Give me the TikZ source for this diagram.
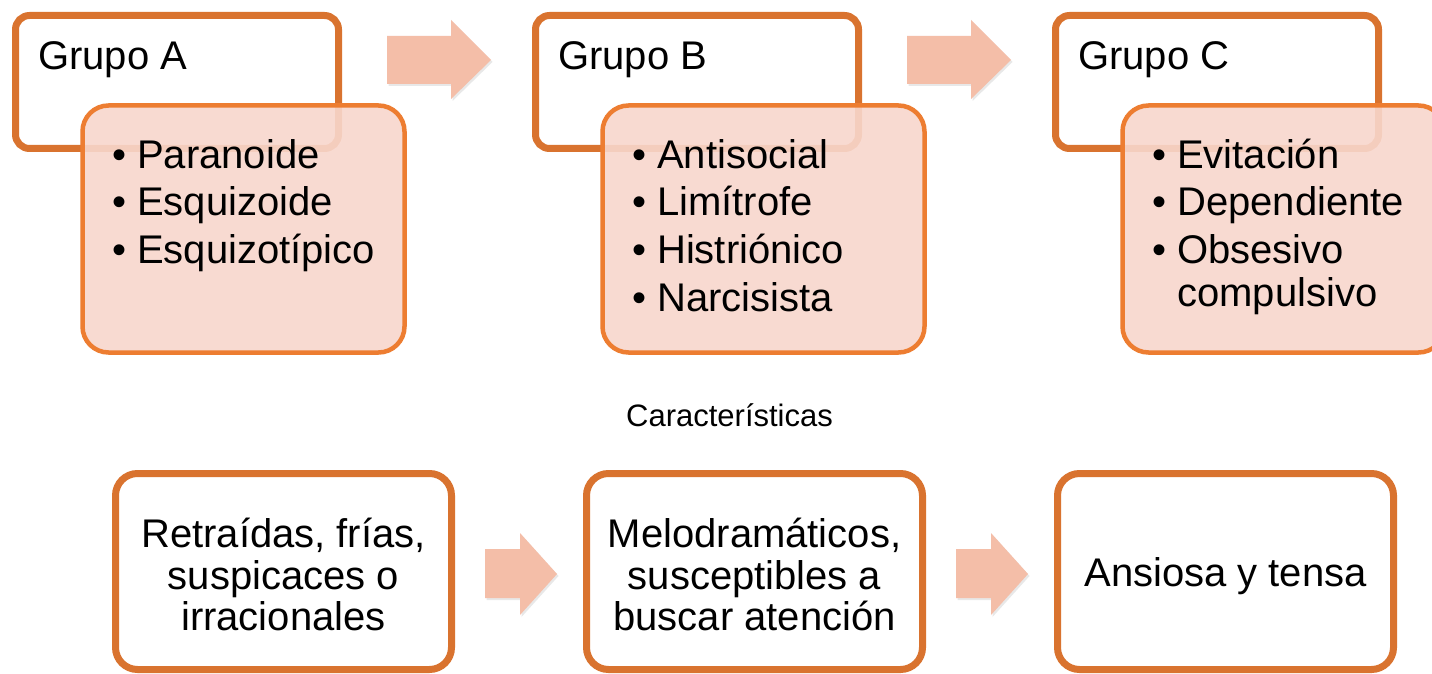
\documentclass[tikz,border=0pt]{standalone}
\usepackage{fontspec}
\setmainfont{Liberation Sans}
\usetikzlibrary{shadows}
\definecolor{darkorange}{RGB}{217,115,47}
\definecolor{brightorange}{RGB}{237,125,49}
\definecolor{pinkfill}{RGB}{248,215,205}
\definecolor{arrowfill}{RGB}{244,190,168}
\tikzset{
  softshadow/.style={drop shadow={opacity=0.18, shadow xshift=1.5pt, shadow yshift=-2pt}},
  titlebox/.style={draw=darkorange, line width=7pt, fill=white, rounded corners=14pt,
    minimum width=323pt, minimum height=133pt, inner sep=0pt, softshadow},
  listbox/.style={draw=brightorange, line width=4.5pt, fill=pinkfill, fill opacity=0.9,
    rounded corners=26pt, minimum width=322pt, minimum height=247pt, inner sep=0pt},
  charbox/.style={draw=darkorange, line width=7pt, fill=white, rounded corners=22pt,
    minimum width=336pt, minimum height=196pt, inner sep=0pt, softshadow},
  chartext/.style={align=center, inner sep=0pt, font=\fontsize{40}{41.5}\selectfont},
  bigtext/.style={font=\fontsize{40}{48}\selectfont, inner sep=0pt, anchor=base west},
  smalltext/.style={font=\fontsize{31}{36}\selectfont, inner sep=0pt, anchor=base},
  toparrow/.pic={\fill[arrowfill, softshadow] (0,-24) -- (64,-24) -- (64,-40) -- (104,0) -- (64,39) -- (64,24) -- (0,24) -- cycle;},
  botarrow/.pic={\fill[arrowfill, softshadow] (0,-25) -- (35,-25) -- (35,-41) -- (72,0) -- (35,41) -- (35,24) -- (0,24) -- cycle;}
}
\newcommand{\bul}{\makebox[25pt][l]{•}}
\newcommand{\nobul}{\makebox[25pt][l]{}}
\begin{document}
\begin{tikzpicture}[x=1pt,y=-1pt]
\clip (0,0) rectangle (1432,674);
\fill[white] (0,0) rectangle (1432,674);

% top row: title boxes
\node[titlebox] (ga) at (177,82) {};
\node[titlebox] (gb) at (697,82) {};
\node[titlebox] (gc) at (1217,82) {};

% list boxes
\node[listbox] (la) at (243.5,229) {};
\node[listbox] (lb) at (763.5,229) {};
\node[listbox] (lc) at (1283.5,229) {};

% titles
\node[bigtext] (ta) at (38,70) {Grupo A};
\node[bigtext] (tb) at (558,70) {Grupo B};
\node[bigtext] (tc) at (1078,70) {Grupo C};

% lists
\node[bigtext] (a1) at (112,168) {\bul Paranoide};
\node[bigtext] (a2) at (112,215) {\bul Esquizoide};
\node[bigtext] (a3) at (112,263) {\bul Esquizotípico};

\node[bigtext] (b1) at (632,168) {\bul Antisocial};
\node[bigtext] (b2) at (632,215) {\bul Limítrofe};
\node[bigtext] (b3) at (632,263) {\bul Histriónico};
\node[bigtext] (b4) at (632,311) {\bul Narcisista};

\node[bigtext] (c1) at (1152,168) {\bul Evitación};
\node[bigtext] (c2) at (1152,215) {\bul Dependiente};
\node[bigtext] (c3) at (1152,263) {\bul Obsesivo};
\node[bigtext] (c4) at (1152,306) {\nobul compulsivo};

% top arrows
\coordinate (tarr1) at (387,60);
\coordinate (tarr2) at (907,60);
\pic at (tarr1) {toparrow};
\pic at (tarr2) {toparrow};

% middle label
\node[smalltext] (car) at (729.5,426) {Características};

% bottom boxes
\node[charbox] (ca) at (283.5,571.5) {};
\node[charbox] (cb) at (754.5,571.5) {};
\node[charbox] (cc) at (1225.5,571.5) {};
\node[chartext] (cat) at (283.5,574.5) {Retraídas, frías,\\suspicaces o\\irracionales};
\node[chartext] (cbt) at (754.5,574.5) {Melodramáticos,\\susceptibles a\\buscar atención};
\node[chartext] (cct) at (1225.5,576.5) {Ansiosa y tensa};

% bottom arrows
\coordinate (barr1) at (485,574);
\coordinate (barr2) at (956,574);
\pic at (barr1) {botarrow};
\pic at (barr2) {botarrow};
\end{tikzpicture}
\end{document}
